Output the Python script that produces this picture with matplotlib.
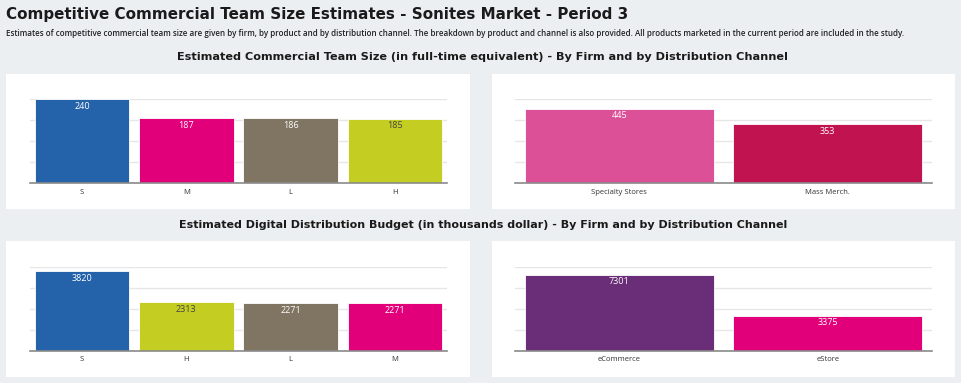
import matplotlib
matplotlib.use("Agg")
import matplotlib.pyplot as plt
from matplotlib.patches import Rectangle

W, H = 962, 383

# ---- data ----
team_firm_cats = ["S", "M", "L", "H"]
team_firm_vals = [240, 187, 186, 185]
team_firm_colors = ["#2462aa", "#e2007a", "#7f7562", "#c4cd21"]

team_chan_cats = ["Specialty Stores", "Mass Merch."]
team_chan_vals = [445, 353]
team_chan_colors = ["#dc5097", "#c1134f"]

dig_firm_cats = ["S", "H", "L", "M"]
dig_firm_vals = [3820, 2313, 2271, 2271]
dig_firm_colors = ["#2462aa", "#c4cd21", "#7f7562", "#e2007a"]

dig_chan_cats = ["eCommerce", "eStore"]
dig_chan_vals = [7301, 3375]
dig_chan_colors = ["#6a2d77", "#e2007a"]

main_title = "Competitive Commercial Team Size Estimates - Sonites Market - Period 3"
subtitle = ("Estimates of competitive commercial team size are given by firm, by product and by distribution channel. "
            "The breakdown by product and channel is also provided. All products marketed in the current period are included in the study.")
sec1 = "Estimated Commercial Team Size (in full-time equivalent) - By Firm and by Distribution Channel"
sec2 = "Estimated Digital Distribution Budget (in thousands dollar) - By Firm and by Distribution Channel"

fig = plt.figure(figsize=(W / 100, H / 100), dpi=100)
fig.patch.set_facecolor("#eceff2")


def rect(x0, y0, x1, y1):
    return [x0 / W, 1 - y1 / H, (x1 - x0) / W, (y1 - y0) / H]


def panel(x0, y0, x1, y1):
    fig.patches.append(Rectangle((x0 / W, 1 - y1 / H), (x1 - x0) / W, (y1 - y0) / H,
                                 transform=fig.transFigure, facecolor="white",
                                 edgecolor="none", zorder=-5))


def bars(pos, cats, vals, colors, ymax, step, dark=()):
    ax = fig.add_axes(rect(*pos))
    ax.set_zorder(2)
    ax.set_facecolor("none")
    x = list(range(len(cats)))
    ax.bar(x, vals, width=0.905, color=colors, edgecolor="white", linewidth=0.6, zorder=3)
    ax.set_xlim(-0.5, len(cats) - 0.5)
    ax.set_ylim(0, ymax)
    ax.set_yticks([i * step for i in range(int(ymax / step) + 1)])
    ax.yaxis.grid(True, color="#e6e6e6", linewidth=1)
    ax.set_axisbelow(True)
    ax.set_yticklabels([])
    ax.tick_params(axis="y", length=0)
    ax.set_xticks(x)
    ax.set_xticklabels(cats, fontsize=5.5, color="#333333", family="Open Sans")
    ax.tick_params(axis="x", length=0, pad=4)
    for s in ["top", "left", "right"]:
        ax.spines[s].set_visible(False)
    ax.spines["bottom"].set_color("#8a8a8a")
    ax.spines["bottom"].set_linewidth(1.2)
    ax.spines["bottom"].set_zorder(4)
    for i, v in enumerate(vals):
        c = "#444444" if i in dark else "white"
        ax.annotate(str(v), (i, v), xytext=(0, -2), textcoords="offset points",
                    ha="center", va="top", fontsize=6.5, color=c, family="Open Sans",
                    zorder=5)
    return ax


# panels
panel(6, 74, 470, 209)
panel(492, 74, 955, 209)
panel(6, 241, 470, 377)
panel(492, 241, 955, 377)

bars((30, 99.3, 447, 183.3), team_firm_cats, team_firm_vals, team_firm_colors, 240, 60, dark=(3,))
bars((515, 99.3, 932, 183.3), team_chan_cats, team_chan_vals, team_chan_colors, 500, 125)
bars((30, 267.3, 447, 350.7), dig_firm_cats, dig_firm_vals, dig_firm_colors, 4000, 1000, dark=(1,))
bars((515, 267.3, 932, 350.7), dig_chan_cats, dig_chan_vals, dig_chan_colors, 8000, 2000)

fig.text(6 / W, 1 - 14 / H, main_title, fontsize=10.9, color="#1a1a1a", family="DejaVu Sans",
         fontweight="bold", ha="left", va="center")
fig.text(6 / W, 1 - 34 / H, subtitle, fontsize=5.73, color="#222222", family="Open Sans",
         fontweight="semibold", ha="left", va="center")
fig.text(483 / W, 1 - 57 / H, sec1, fontsize=8.15, color="#1a1a1a", family="DejaVu Sans",
         fontweight="bold", ha="center", va="center")
fig.text(483 / W, 1 - 225 / H, sec2, fontsize=8.0, color="#1a1a1a", family="DejaVu Sans",
         fontweight="bold", ha="center", va="center")

fig.savefig("out.png", dpi=100, facecolor=fig.get_facecolor())
